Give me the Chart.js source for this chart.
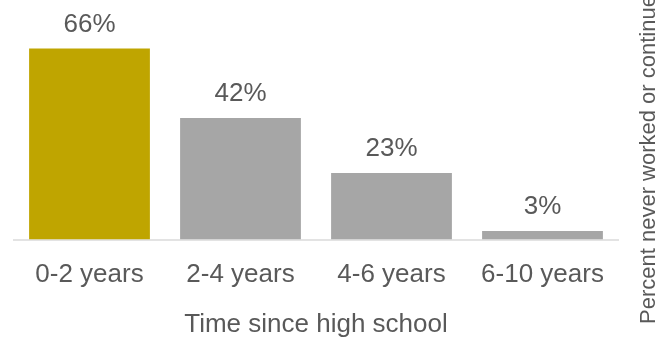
<!DOCTYPE html>
<html>
<head>
<meta charset="utf-8">
<script src="https://cdn.jsdelivr.net/npm/chart.js@4"></script>
<style>
  html, body { margin: 0; padding: 0; background: #ffffff; }
  #wrap { width: 668px; height: 339px; position: relative; }
</style>
</head>
<body>
<div id="wrap"><canvas id="c" width="668" height="339"></canvas></div>
<script>
const categories = ["0-2 years", "2-4 years", "4-6 years", "6-10 years"];
const percentValues = [66, 42, 23, 3];
const barColors = ["#BFA500", "#A6A6A6", "#A6A6A6", "#A6A6A6"];
const xAxisTitle = "Time since high school";
const yAxisTitle = "Percent never worked or continued";

const TEXT_COLOR = "#595959";
const FONT_FAMILY = "'Liberation Sans', Arial, Helvetica, sans-serif";

const valueLabels = {
  id: "valueLabels",
  afterDatasetsDraw(chart) {
    const ctx = chart.ctx;
    const meta = chart.getDatasetMeta(0);
    ctx.save();
    ctx.fillStyle = TEXT_COLOR;
    ctx.font = "26px " + FONT_FAMILY;
    ctx.textAlign = "center";
    ctx.textBaseline = "alphabetic";
    meta.data.forEach((bar, i) => {
      ctx.fillText(percentValues[i] + "%", bar.x, bar.y - 17);
    });
    ctx.restore();
  }
};

const rightTitle = {
  id: "rightTitle",
  afterDraw(chart) {
    const ctx = chart.ctx;
    ctx.save();
    ctx.fillStyle = TEXT_COLOR;
    ctx.font = "22px " + FONT_FAMILY;
    ctx.textAlign = "left";
    ctx.textBaseline = "alphabetic";
    ctx.translate(chart.width - 13, chart.height - 15);
    ctx.rotate(-Math.PI / 2);
    ctx.fillText(yAxisTitle, 0, 0);
    ctx.restore();
  }
};

new Chart(document.getElementById("c"), {
  type: "bar",
  data: {
    labels: categories,
    datasets: [{
      data: percentValues,
      backgroundColor: barColors,
      borderWidth: 0,
      barPercentage: 0.8,
      categoryPercentage: 1.0
    }]
  },
  options: {
    responsive: false,
    animation: false,
    layout: { padding: { left: 14, right: 50, top: 8, bottom: 0 } },
    plugins: {
      legend: { display: false },
      tooltip: { enabled: false },
      title: { display: false }
    },
    scales: {
      x: {
        grid: { display: false, drawTicks: false },
        border: { display: true, color: "#E3E3E3", width: 2 },
        ticks: {
          color: TEXT_COLOR,
          font: { family: FONT_FAMILY, size: 26 },
          padding: 20,
          maxRotation: 0,
          autoSkip: false
        },
        title: {
          display: true,
          text: xAxisTitle,
          color: TEXT_COLOR,
          font: { family: FONT_FAMILY, size: 26, lineHeight: 1.0 },
          padding: { top: 0.6, bottom: 1.6 }
        }
      },
      y: {
        display: false,
        min: 0,
        max: 80
      }
    }
  },
  plugins: [valueLabels, rightTitle]
});
</script>
</body>
</html>
